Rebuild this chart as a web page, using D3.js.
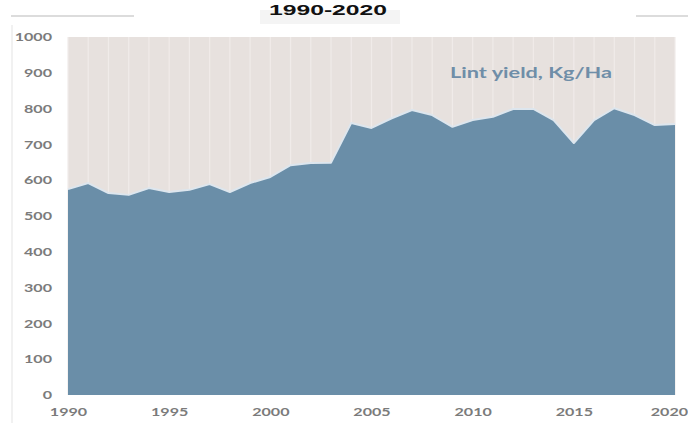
<!DOCTYPE html>
<html><head><meta charset="utf-8">
<script src="https://cdn.jsdelivr.net/npm/d3@7"></script>
<style>
html,body{margin:0;padding:0;background:#fff;}
svg{display:block;}
</style></head>
<body>
<svg id="chart" width="688" height="423"></svg>
<script>
const years = [1990,1991,1992,1993,1994,1995,1996,1997,1998,1999,2000,2001,2002,2003,2004,2005,2006,2007,2008,2009,2010,2011,2012,2013,2014,2015,2016,2017,2018,2019,2020];
const lintYield = [575,592,564,559,578,567,573,589,567,592,609,642,648,649,760,746,773,796,782,749,768,777,799,799,768,704,768,801,782,754,757];
const yTicks = [0,100,200,300,400,500,600,700,800,900,1000];
const xTicks = [1990,1995,2000,2005,2010,2015,2020];
const seriesLabel = "Lint yield, Kg/Ha";
const titleText = "1990-2020";

const svg = d3.select("#chart");
const pLeft = 68, pRight = 675, pTop = 37, pBottom = 395;
const x = d3.scaleLinear().domain([1990,2020]).range([pLeft,pRight]);
const y = d3.scaleLinear().domain([0,1000]).range([pBottom,pTop]);
const fontFam = "Lato, 'Open Sans', sans-serif";

// title (partly hidden at top in the original)
svg.append("rect").attr("x",260).attr("y",10).attr("width",140).attr("height",14).attr("fill","#f4f4f4");
svg.append("text").attr("x",328).attr("y",15).attr("text-anchor","middle")
  .attr("font-family","Liberation Sans, Arial, sans-serif").attr("font-weight","bold")
  .attr("font-size",15.5).attr("fill","#111").attr("textLength",118).attr("lengthAdjust","spacingAndGlyphs")
  .text(titleText);
// faint top lines
svg.append("line").attr("x1",11).attr("x2",134).attr("y1",16).attr("y2",16).attr("stroke","#dcdcdc").attr("stroke-width",2);
svg.append("line").attr("x1",636).attr("x2",688).attr("y1",16).attr("y2",16).attr("stroke","#dcdcdc").attr("stroke-width",2);
// faint left border
svg.append("line").attr("x1",12).attr("x2",12).attr("y1",25).attr("y2",423).attr("stroke","#ececec").attr("stroke-width",1.5);

// plot background
svg.append("rect").attr("x",pLeft).attr("y",pTop).attr("width",pRight-pLeft).attr("height",pBottom-pTop).attr("fill","#e7e1de");
// faint vertical gridlines
svg.append("g").selectAll("line").data(d3.range(1990,2021)).join("line")
  .attr("x1",d=>x(d)).attr("x2",d=>x(d)).attr("y1",pTop).attr("y2",pBottom)
  .attr("stroke","#f0ebe9").attr("stroke-width",1.2);

const data = years.map((yr,i)=>({yr, v: lintYield[i]}));
const area = d3.area().x(d=>x(d.yr)).y0(y(0)).y1(d=>y(d.v));
const line = d3.line().x(d=>x(d.yr)).y(d=>y(d.v));
svg.append("path").datum(data).attr("d",area).attr("fill","#6a8ea8");
svg.append("path").datum(data).attr("d",line).attr("fill","none").attr("stroke","#dde6ee").attr("stroke-width",2).attr("stroke-linejoin","round");

// y axis labels
const yAxis = d3.axisLeft(y).tickValues(yTicks).tickSize(0).tickPadding(0).tickFormat(d3.format("d"));
const gy = svg.append("g").attr("transform","translate(52,0)").call(yAxis);
gy.select(".domain").remove();
gy.selectAll("text").attr("font-family",fontFam).attr("font-weight","bold").attr("font-size",11.5)
  .attr("fill","#7b7b7b").attr("transform","scale(1.4,1)");

// x axis labels
const xAxis = d3.axisBottom(x).tickValues(xTicks).tickSize(0).tickPadding(0).tickFormat(d3.format("d"));
const gx = svg.append("g").attr("transform","translate(0,408)").call(xAxis);
gx.select(".domain").remove();
gx.selectAll("text").attr("font-family",fontFam).attr("font-weight","bold").attr("font-size",11.5)
  .attr("fill","#7b7b7b").attr("transform","scale(1.4,1)");
gx.selectAll(".tick").filter(d=>d===2020).select("text").attr("text-anchor","end").attr("x",9);

// series label
svg.append("text").attr("x",531).attr("y",78).attr("text-anchor","middle")
  .attr("font-family",fontFam).attr("font-weight","bold").attr("font-size",15)
  .attr("fill","#6f8ea8").attr("textLength",162).attr("lengthAdjust","spacingAndGlyphs").text(seriesLabel);
</script>
</body></html>
